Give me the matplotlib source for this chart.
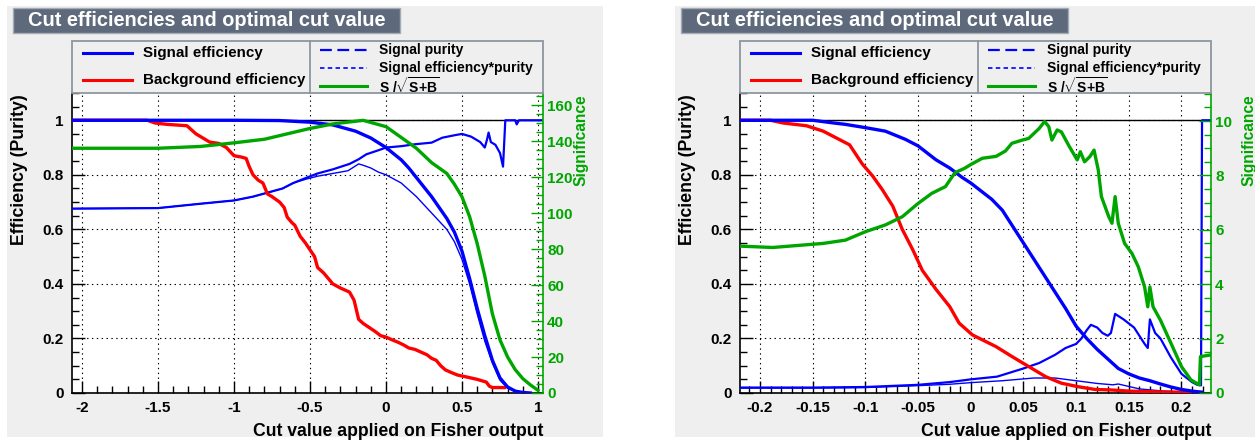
import matplotlib
matplotlib.use('Agg')
import matplotlib.pyplot as plt
from matplotlib.patches import Rectangle
from matplotlib.ticker import MultipleLocator, FuncFormatter

plt.rcParams['font.family'] = ['Liberation Sans', 'DejaVu Sans']
plt.rcParams['font.weight'] = 'bold'
plt.rcParams['mathtext.fontset'] = 'custom'
plt.rcParams['mathtext.rm'] = 'Liberation Sans:bold'
plt.rcParams['mathtext.bf'] = 'Liberation Sans:bold'
plt.rcParams['mathtext.it'] = 'Liberation Sans:bold'
plt.rcParams['lines.scale_dashes'] = False

# ---------------- data: left panel ----------------
L_sig_eff_x = [-2.07, -1.0, -0.7, -0.5, -0.35, -0.2, -0.1, 0.0, 0.1, 0.15, 0.2, 0.3, 0.4, 0.45,
               0.5, 0.55, 0.6, 0.65, 0.7, 0.75, 0.8, 0.85, 0.9, 0.95]
L_sig_eff_y = [1.0, 1.0, 0.999, 0.993, 0.983, 0.96, 0.935, 0.90, 0.855, 0.825, 0.79, 0.72, 0.64, 0.59,
               0.52, 0.42, 0.31, 0.21, 0.12, 0.055, 0.022, 0.007, 0.002, 0.0]

L_bkg_eff_x = [-2.07, -1.57, -1.52, -1.44, -1.31, -1.28, -1.25, -1.22, -1.16, -1.1,
               -1.05, -1.0, -0.95, -0.92, -0.9, -0.875, -0.84, -0.81, -0.78, -0.75,
               -0.70, -0.67, -0.65, -0.62, -0.6, -0.565, -0.53, -0.5, -0.47, -0.45,
               -0.41, -0.38, -0.35, -0.3, -0.24, -0.21, -0.18, -0.15, -0.11, -0.07,
               -0.035, 0.0, 0.04, 0.084, 0.12, 0.15, 0.19, 0.23, 0.27, 0.30,
               0.33, 0.36, 0.39, 0.43, 0.47, 0.52, 0.56, 0.60, 0.63, 0.66,
               0.68, 0.7, 0.78]
L_bkg_eff_y = [1.0, 1.0, 0.99, 0.985, 0.98, 0.965, 0.95, 0.94, 0.92, 0.915,
               0.90, 0.87, 0.865, 0.86, 0.83, 0.80, 0.78, 0.77, 0.73, 0.72,
               0.70, 0.68, 0.645, 0.625, 0.615, 0.575, 0.55, 0.525, 0.50, 0.46,
               0.44, 0.42, 0.40, 0.385, 0.37, 0.34, 0.27, 0.255, 0.24, 0.225,
               0.21, 0.205, 0.195, 0.185, 0.175, 0.165, 0.16, 0.15, 0.14, 0.127,
               0.12, 0.10, 0.085, 0.075, 0.066, 0.06, 0.055, 0.05, 0.045, 0.04,
               0.025, 0.02, 0.02]

L_purity_x = [-2.07, -1.5, -1.22, -1.0, -0.875, -0.79, -0.68, -0.61, -0.52, -0.45,
              -0.35, -0.24, -0.18, -0.13, -0.05, 0.0, 0.1, 0.19, 0.3, 0.37,
              0.45, 0.5, 0.56, 0.62, 0.65, 0.665, 0.675, 0.69, 0.72, 0.75,
              0.77, 0.785, 0.8, 0.85, 0.86, 0.875, 0.9, 1.03]
L_purity_y = [0.676, 0.678, 0.694, 0.706, 0.72, 0.733, 0.75, 0.77, 0.79, 0.805,
              0.82, 0.84, 0.857, 0.875, 0.89, 0.90, 0.905, 0.912, 0.918, 0.936,
              0.945, 0.95, 0.94, 0.92, 0.90, 0.93, 0.955, 0.92, 0.91, 0.88,
              0.83, 1.0, 1.0, 1.0, 0.985, 1.0, 1.0, 1.0]

L_effpur_x = [-2.07, -1.5, -1.22, -1.0, -0.875, -0.79, -0.68, -0.61, -0.52, -0.45,
              -0.35, -0.25, -0.18, -0.15, -0.1, -0.05, 0.0, 0.1, 0.2, 0.3,
              0.4, 0.45, 0.5, 0.55, 0.6, 0.65, 0.7, 0.75, 0.8, 0.85,
              0.9, 0.95]
L_effpur_y = [0.676, 0.678, 0.694, 0.706, 0.72, 0.733, 0.75, 0.77, 0.785, 0.795,
              0.805, 0.815, 0.84, 0.835, 0.825, 0.81, 0.80, 0.77, 0.72, 0.66,
              0.60, 0.555, 0.49, 0.40, 0.29, 0.19, 0.11, 0.047, 0.018, 0.007,
              0.002, 0.0]

L_signif_x = [-2.07, -1.5, -1.22, -1.0, -0.8, -0.6, -0.5, -0.35, -0.2, -0.15,
              0.0, 0.1, 0.2, 0.3, 0.4, 0.45, 0.5, 0.55, 0.6, 0.65,
              0.7, 0.75, 0.8, 0.85, 0.9, 0.95, 1.0]
L_signif_y = [136, 136, 137, 139, 141, 145, 147, 149.5, 151, 151.5,
              148, 142, 136, 128, 122, 116, 109, 98, 83, 65,
              44, 29.5, 20, 13, 8, 4.5, 1.5]

# ---------------- data: right panel ----------------
R_sig_eff_x = [-0.219, -0.15, -0.13, -0.119, -0.1, -0.081, -0.062, -0.05, -0.033, -0.02,
               -0.008, 0.0, 0.01, 0.02, 0.03, 0.04, 0.05, 0.06, 0.07, 0.08,
               0.09, 0.1, 0.11, 0.12, 0.13, 0.14, 0.15, 0.16, 0.17, 0.18,
               0.19, 0.2, 0.21, 0.219]
R_sig_eff_y = [1.0, 1.0, 0.99, 0.985, 0.973, 0.96, 0.93, 0.906, 0.855, 0.825,
               0.79, 0.77, 0.74, 0.71, 0.67, 0.61, 0.55, 0.49, 0.43, 0.37,
               0.31, 0.245, 0.2, 0.16, 0.125, 0.09, 0.07, 0.055, 0.045, 0.033,
               0.022, 0.013, 0.007, 0.003]

R_bkg_eff_x = [-0.219, -0.19, -0.178, -0.156, -0.14, -0.125, -0.115, -0.103, -0.093, -0.084,
               -0.074, -0.065, -0.055, -0.046, -0.033, -0.02, -0.011, 0.0016, 0.024, 0.039,
               0.055, 0.071, 0.086, 0.102, 0.118, 0.134, 0.15, 0.18, 0.219]
R_bkg_eff_y = [1.0, 1.0, 0.99, 0.98, 0.96, 0.93, 0.91, 0.84, 0.795, 0.746,
               0.685, 0.60, 0.525, 0.45, 0.38, 0.317, 0.256, 0.213, 0.17, 0.134,
               0.097, 0.06, 0.036, 0.023, 0.013, 0.011, 0.007, 0.004, 0.002]

R_purity_x = [-0.219, -0.15, -0.1, -0.05, -0.02, 0.0, 0.025, 0.05, 0.065, 0.08,
              0.09, 0.1, 0.105, 0.11, 0.114, 0.12, 0.125, 0.13, 0.133, 0.137,
              0.145, 0.155, 0.165, 0.168, 0.17, 0.175, 0.18, 0.19, 0.2, 0.21,
              0.215, 0.2185, 0.2195, 0.228]
R_purity_y = [0.02, 0.02, 0.022, 0.03, 0.04, 0.05, 0.06, 0.09, 0.11, 0.14,
              0.165, 0.18, 0.2, 0.23, 0.25, 0.24, 0.22, 0.21, 0.22, 0.29,
              0.27, 0.24, 0.18, 0.165, 0.27, 0.22, 0.2, 0.13, 0.07, 0.04,
              0.03, 0.028, 1.0, 1.0]

R_effpur_x = [-0.219, -0.15, -0.1, -0.05, -0.02, 0.0, 0.03, 0.06, 0.08, 0.1,
              0.12, 0.135, 0.14, 0.16, 0.18, 0.2, 0.219]
R_effpur_y = [0.018, 0.018, 0.02, 0.027, 0.032, 0.038, 0.045, 0.055, 0.055, 0.045,
              0.035, 0.03, 0.033, 0.015, 0.008, 0.003, 0.001]

R_signif_x = [-0.219, -0.188, -0.14, -0.119, -0.1, -0.081, -0.065, -0.05, -0.037, -0.024,
              -0.015, -0.006, 0.0, 0.011, 0.024, 0.033, 0.039, 0.049, 0.055, 0.065,
              0.07, 0.074, 0.077, 0.082, 0.086, 0.093, 0.101, 0.104, 0.108, 0.113,
              0.117, 0.121, 0.124, 0.131, 0.134, 0.137, 0.14, 0.146, 0.153, 0.159,
              0.165, 0.168, 0.17, 0.173, 0.18, 0.19, 0.2, 0.209, 0.217, 0.218,
              0.228]
R_signif_y = [5.4, 5.35, 5.5, 5.62, 5.93, 6.18, 6.48, 6.97, 7.34, 7.59,
              8.1, 8.26, 8.4, 8.63, 8.7, 8.9, 9.18, 9.3, 9.36, 9.73,
              9.98, 9.8, 9.3, 9.67, 9.6, 9.1, 8.57, 8.87, 8.5, 8.69,
              8.93, 8.2, 7.22, 6.48, 6.24, 7.22, 6.24, 5.5, 5.13, 4.64,
              3.9, 3.17, 3.9, 3.17, 2.68, 1.83, 0.97, 0.48, 0.3, 1.34,
              1.4]

TITLE = 'Cut efficiencies and optimal cut value'
XLABEL = 'Cut value applied on Fisher output'
YLABEL = 'Efficiency (Purity)'
Y2LABEL = 'Significance'
LEG_LEFT = ['Signal efficiency', 'Background efficiency']
LEG_RIGHT = ['Signal purity', 'Signal efficiency*purity', r'S /$\sqrt{\mathrm{S{+}B}}$']

BLUE = '#0000ff'
RED = '#ff0000'
GREEN = '#00a600'
PANEL = '#efefef'
TITLEBOX = '#5e6a7c'
FS_TICK = 11

W, H = 1255, 442
fig = plt.figure(figsize=(W / 100, H / 100), dpi=100)
fig.patch.set_facecolor('white')

bg = fig.add_axes([0, 0, 1, 1], zorder=-10)
bg.set_xlim(0, W); bg.set_ylim(H, 0); bg.axis('off')
ov = fig.add_axes([0, 0, 1, 1], zorder=10)
ov.set_xlim(0, W); ov.set_ylim(H, 0); ov.axis('off')


def fmt(v, pos):
    s = '%g' % round(v, 6)
    return '0' if s == '-0' else s


def panel(dx, xlim, xmaj, xmin, sig_top, sig_maj, sig_min, d):
    bg.add_patch(Rectangle((7 + dx, 6), 596, 431, facecolor=PANEL, edgecolor='none'))
    ax = fig.add_axes([(72 + dx) / W, 1 - 393 / H, 471 / W, 300 / H])
    ax.set_facecolor('white')
    ax.set_xlim(*xlim)
    ax.set_ylim(0, 1.1)
    ax.xaxis.set_major_locator(MultipleLocator(xmaj))
    ax.xaxis.set_minor_locator(MultipleLocator(xmin))
    ax.yaxis.set_major_locator(MultipleLocator(0.2))
    ax.yaxis.set_minor_locator(MultipleLocator(0.05))
    ax.xaxis.set_major_formatter(FuncFormatter(fmt))
    ax.yaxis.set_major_formatter(FuncFormatter(fmt))
    ax.tick_params(which='both', direction='in', top=False, right=False,
                   labelsize=FS_TICK, width=1)
    ax.tick_params(which='major', length=9)
    ax.tick_params(which='minor', length=5)
    ax.tick_params(axis='x', pad=6)
    ax.tick_params(axis='y', pad=6)
    ax.grid(True, which='major', color='black', linestyle=(0, (1, 2.5)), linewidth=0.8)
    for s in ('top', 'right'):
        ax.spines[s].set_visible(False)
    ax.spines['left'].set_linewidth(1.2)
    ax.spines['bottom'].set_linewidth(1.2)
    ax.axhline(1.0, color='black', lw=1.0, zorder=2)

    ax.plot(d['pur'][0], d['pur'][1], color=BLUE, lw=1.6, zorder=3)
    ax.plot(d['ep'][0], d['ep'][1], color=BLUE, lw=1.0, zorder=3)
    ax.plot(d['bkg'][0], d['bkg'][1], color=RED, lw=2.4, zorder=3)
    ax.plot(d['sig'][0], d['sig'][1], color=BLUE, lw=2.4, zorder=4)

    ax2 = ax.twinx()
    ax2.set_ylim(0, sig_top)
    ax2.patch.set_visible(False)
    for s in ('top', 'left', 'bottom'):
        ax2.spines[s].set_visible(False)
    ax2.spines['right'].set_color(GREEN)
    ax2.spines['right'].set_linewidth(1.2)
    ax2.yaxis.set_major_locator(MultipleLocator(sig_maj))
    ax2.yaxis.set_minor_locator(MultipleLocator(sig_min))
    ax2.yaxis.set_major_formatter(FuncFormatter(fmt))
    ax2.tick_params(which='both', direction='in', colors=GREEN, labelsize=FS_TICK, pad=3, width=1)
    ax2.tick_params(which='major', length=9)
    ax2.tick_params(which='minor', length=5)
    ax2.plot(d['signif'][0], d['signif'][1], color=GREEN, lw=2.4)

    # title box
    ov.add_patch(Rectangle((13 + dx, 8), 387, 25, facecolor=TITLEBOX, edgecolor='#a3abb6', lw=1))
    ov.text(28 + dx, 21, TITLE, color='white', fontsize=14.4, ha='left', va='center', fontweight='bold')

    # legend box
    ov.add_patch(Rectangle((72 + dx, 41), 471, 52, facecolor=PANEL, edgecolor='#8d96a1', lw=1.3))
    ov.plot([310 + dx, 310 + dx], [41, 93], color='#8d96a1', lw=1.3)
    ov.plot([83 + dx, 132 + dx], [53, 53], color=BLUE, lw=2.2)
    ov.plot([83 + dx, 132 + dx], [80, 80], color=RED, lw=2.2)
    ov.text(143 + dx, 53, LEG_LEFT[0], fontsize=10.9, ha='left', va='center')
    ov.text(143 + dx, 80, LEG_LEFT[1], fontsize=10.9, ha='left', va='center')
    ov.plot([320 + dx, 367 + dx], [50, 50], color=BLUE, lw=1.6, linestyle=(0, (8.5, 4.0)))
    ov.plot([320 + dx, 367 + dx], [68, 68], color=BLUE, lw=1.2, linestyle=(0, (3.2, 2.4)))
    ov.plot([320 + dx, 367 + dx], [86, 86], color=GREEN, lw=2.2)
    ov.text(379 + dx, 50, LEG_RIGHT[0], fontsize=10, ha='left', va='center')
    ov.text(379 + dx, 68, LEG_RIGHT[1], fontsize=10, ha='left', va='center')
    ov.text(379 + dx, 86, LEG_RIGHT[2], fontsize=10, ha='left', va='center')

    # axis titles
    ov.text(20 + dx, 94, YLABEL, rotation=90, fontsize=12.8, ha='center', va='top')
    ov.text(581 + dx, 94, Y2LABEL, rotation=90, fontsize=11.2, ha='center', va='top', color=GREEN)
    ov.text(543 + dx, 432, XLABEL, fontsize=12.7, ha='right', va='center')


panel(0, (-2.066, 1.033), 0.5, 0.1, 166.7, 20, 5,
      {'sig': (L_sig_eff_x, L_sig_eff_y), 'bkg': (L_bkg_eff_x, L_bkg_eff_y),
       'pur': (L_purity_x, L_purity_y), 'ep': (L_effpur_x, L_effpur_y),
       'signif': (L_signif_x, L_signif_y)})
panel(668, (-0.219, 0.228), 0.05, 0.01, 11.03, 2, 0.5,
      {'sig': (R_sig_eff_x, R_sig_eff_y), 'bkg': (R_bkg_eff_x, R_bkg_eff_y),
       'pur': (R_purity_x, R_purity_y), 'ep': (R_effpur_x, R_effpur_y),
       'signif': (R_signif_x, R_signif_y)})

fig.savefig('out.png', dpi=100)
